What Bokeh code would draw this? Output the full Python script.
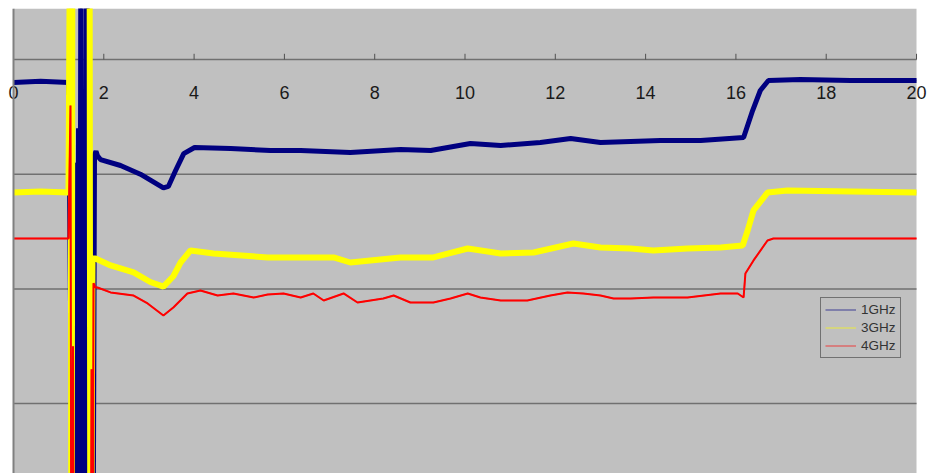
from bokeh.plotting import figure
from bokeh.models import (BoxAnnotation, FixedTicker, Span, Legend, LegendItem,
                          Range1d, ColumnDataSource)
from bokeh.embed import file_html
from bokeh.resources import INLINE

# ---- data -------------------------------------------------------------
x_ticks = [0, 2, 4, 6, 8, 10, 12, 14, 16, 18, 20]
x_tick_labels = ["0", "2", "4", "6", "8", "10", "12", "14", "16", "18", "20"]
grid_levels = [-30, -20, -10, 0]
series_names = ["1GHz", "3GHz", "4GHz"]

x_1ghz = [0, 0.6, 1.218, 1.351, 1.373, 1.395, 1.440, 1.462, 1.495, 1.517, 1.550, 1.573,
          1.628, 1.650, 1.750, 1.794, 1.827, 1.860, 1.927, 2.37, 2.81, 3.32, 3.43, 3.59,
          3.77, 4.01, 4.81, 5.69, 6.36, 7.46, 8.57, 9.24, 10.12, 10.79, 11.67, 12.34,
          13.0, 13.67, 14.33, 15.22, 16.17, 16.37, 16.54, 16.72, 17.43, 18.54, 20.0]
y_1ghz = [-2.0, -1.9, -2.0, -60, -9, -60, -6, -60, 20, -60, -8, -60,
          20, -60, -60, -8.3, -8.0, -8.4, -8.72, -9.24, -10.0, -11.2, -11.07, -9.68,
          -8.2, -7.67, -7.76, -7.93, -7.93, -8.1, -7.85, -7.93, -7.32, -7.5, -7.24, -6.89,
          -7.24, -7.15, -7.06, -7.06, -6.8, -4.45, -2.7, -1.83, -1.74, -1.83, -1.83]

x_3ghz = [0, 0.6, 1.218, 1.262, 1.285, 1.307, 1.683, 1.705, 1.750, 1.816, 2.15, 2.66,
          3.03, 3.32, 3.54, 3.70, 3.92, 4.43, 5.63, 6.36, 7.09, 7.46, 8.57, 9.30, 10.06,
          10.79, 11.52, 12.40, 13.0, 13.67, 14.17, 14.93, 15.66, 16.15, 16.26, 16.39,
          16.70, 17.14, 20.0]
y_3ghz = [-11.6, -11.5, -11.6, 20, -60, 20, 20, -60, -17.35, -17.35, -17.96, -18.57,
          -19.4, -19.8, -18.9, -17.7, -16.65, -16.91, -17.26, -17.26, -17.26, -17.7, -17.26,
          -17.26, -16.48, -16.91, -16.83, -16.04, -16.39, -16.48, -16.65, -16.48, -16.39,
          -16.22, -14.91, -13.16, -11.6, -11.42, -11.6]

x_4ghz = [0, 0.6, 1.218, 1.262, 1.285, 1.318, 1.340, 1.705, 1.728, 1.750, 1.772, 1.816,
          1.860, 2.15, 2.66, 2.97, 3.32, 3.54, 3.85, 4.14, 4.52, 4.87, 5.32, 5.63, 5.98,
          6.36, 6.64, 6.87, 7.31, 7.62, 8.19, 8.42, 8.79, 9.30, 9.68, 10.06, 10.34, 10.79,
          11.38, 11.89, 12.27, 12.62, 13.0, 13.29, 13.67, 14.17, 14.93, 15.66, 16.04,
          16.17, 16.21, 16.39, 16.70, 16.83, 20.0]
y_4ghz = [-15.6, -15.6, -15.6, -4.0, -60, -25, -60, -60, -27, -60, -19.5, -19.88,
          -19.88, -20.31, -20.58, -21.27, -22.32, -21.62, -20.4, -20.14, -20.58, -20.4,
          -20.75, -20.49, -20.4, -20.75, -20.4, -21.01, -20.4, -21.19, -20.84, -20.58,
          -21.19, -21.19, -20.84, -20.4, -20.75, -21.01, -21.01, -20.58, -20.31, -20.4,
          -20.58, -20.84, -20.84, -20.75, -20.75, -20.4, -20.4, -20.75, -18.66, -17.52,
          -15.78, -15.61, -15.6]

colors = ["#000080", "#FFFF00", "#FF0000"]
band_widths = [5, 6, 2]

X_MIN, X_MAX = 0, 20

# ---- figure -----------------------------------------------------------
p = figure(width=932, height=473, output_backend="svg", toolbar_location=None,
           x_range=Range1d(-0.288, 20.354), y_range=Range1d(-36.1, 4.45),
           x_axis_location=None, y_axis_location=None,
           min_border_left=0, min_border_right=0, min_border_top=8, min_border_bottom=0,
           background_fill_color="white", border_fill_color="white",
           outline_line_color=None)
p.center = []

# gray plot area
p.add_layout(BoxAnnotation(left=X_MIN, right=X_MAX, fill_color="#C0C0C0", fill_alpha=1.0,
                           line_color=None, level="underlay"))

# horizontal gridlines (the 0 line is the x axis)
p.segment(x0=[X_MIN] * len(grid_levels), x1=[X_MAX] * len(grid_levels),
          y0=grid_levels, y1=grid_levels, line_color="#707070", line_width=1.5)

# left vertical axis line
p.add_layout(Span(location=X_MIN, dimension="height", line_color="#808080", line_width=2))

# x-axis ticks (pointing up) and labels (below the axis line)
p.segment(x0=x_ticks, x1=x_ticks, y0=[0] * len(x_ticks), y1=[0.5] * len(x_ticks),
          line_color="#505050", line_width=1)
p.text(x=x_ticks, y=[0] * len(x_ticks), text=x_tick_labels,
       text_align="center", text_baseline="top", y_offset=26,
       text_font={"value": "Liberation Sans"}, text_font_size="18px",
       text_color="#1a1a1a")

xs = [x_1ghz, x_3ghz, x_4ghz]
ys = [y_1ghz, y_3ghz, y_4ghz]
items = []
for name, xv, yv, c, w in zip(series_names, xs, ys, colors, band_widths):
    src = ColumnDataSource(dict(x=xv, y=yv))
    p.line("x", "y", source=src, line_color=c, line_width=w)
    thin = p.line("x", "y", source=src, line_color=c, line_width=1.5, line_alpha=0.45)
    items.append(LegendItem(label=name, renderers=[thin]))

legend = Legend(items=items, location=(820, 115),
                background_fill_color="#C0C0C0", background_fill_alpha=1.0,
                border_line_color="#222222", border_line_width=1,
                padding=4, spacing=3, margin=0,
                glyph_width=31, glyph_height=15, label_height=15, label_standoff=5,
                label_text_font="Liberation Sans", label_text_font_size="13.5px",
                label_text_color="#333333")
p.add_layout(legend)

open("out.html", "w").write(file_html(p, INLINE))
